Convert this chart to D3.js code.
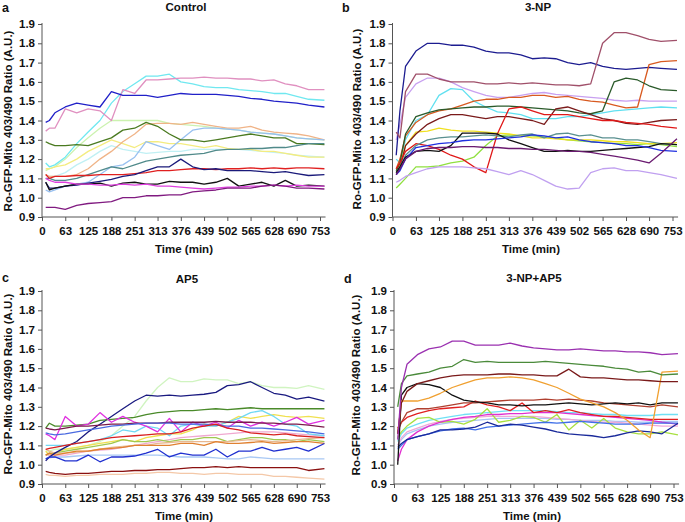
<!DOCTYPE html>
<html>
<head>
<meta charset="utf-8">
<script src="https://cdn.jsdelivr.net/npm/d3@7"></script>
<style>
body { margin: 0; background: #fff; }
svg text { font-family: "Liberation Sans", Arial, sans-serif; font-weight: bold; fill: #111; }
</style>
</head>
<body>
<div id="chart"></div>
<script>
// sample times (min), shared by every trace
var times = [10, 20, 35, 63, 94, 125, 157, 188, 219, 251, 282, 313, 345, 376, 408, 439, 471, 502, 533, 565, 596, 628, 659, 690, 722, 765];
var xTicks = [0, 63, 125, 188, 251, 313, 376, 439, 502, 565, 628, 690, 753];
var yTicks = [0.9, 1.0, 1.1, 1.2, 1.3, 1.4, 1.5, 1.6, 1.7, 1.8, 1.9];

// a - Control
var controlColors = ["#ccf2b0", "#c0f0f4", "#f4ec80", "#f0b488", "#98c0f0", "#70e8f0", "#e090c0", "#2020c8",
	"#4a7a20", "#508a8a", "#e02020", "#1a1a7a", "#111111", "#e040e0", "#801a80"];
var controlValues = [
	[1.14,1.15,1.16,1.20,1.26,1.31,1.36,1.40,1.40,1.40,1.40,1.40,1.385,1.38,1.375,1.37,1.36,1.355,1.35,1.34,1.335,1.33,1.32,1.31,1.305,1.30],
	[1.12,1.11,1.11,1.13,1.17,1.20,1.24,1.27,1.25,1.24,1.23,1.235,1.24,1.24,1.25,1.25,1.25,1.25,1.25,1.245,1.24,1.235,1.23,1.22,1.215,1.21],
	[1.15,1.15,1.16,1.17,1.20,1.24,1.27,1.30,1.28,1.26,1.29,1.29,1.28,1.28,1.27,1.26,1.27,1.255,1.25,1.25,1.24,1.24,1.23,1.22,1.21,1.21],
	[1.12,1.11,1.11,1.11,1.12,1.15,1.20,1.24,1.29,1.33,1.38,1.385,1.385,1.38,1.39,1.38,1.37,1.36,1.36,1.37,1.35,1.34,1.335,1.33,1.32,1.30],
	[1.04,1.03,1.04,1.06,1.07,1.08,1.12,1.16,1.17,1.21,1.29,1.27,1.25,1.30,1.35,1.36,1.36,1.355,1.35,1.34,1.335,1.33,1.32,1.31,1.305,1.30],
	[1.18,1.16,1.17,1.21,1.28,1.34,1.40,1.49,1.55,1.59,1.63,1.63,1.64,1.60,1.59,1.575,1.57,1.57,1.56,1.555,1.55,1.54,1.54,1.525,1.51,1.505],
	[1.345,1.36,1.36,1.46,1.44,1.46,1.45,1.40,1.56,1.54,1.61,1.61,1.615,1.62,1.62,1.625,1.62,1.62,1.615,1.615,1.605,1.61,1.59,1.58,1.56,1.56],
	[1.39,1.40,1.44,1.47,1.49,1.48,1.47,1.55,1.53,1.53,1.53,1.52,1.53,1.54,1.535,1.535,1.535,1.53,1.525,1.515,1.51,1.50,1.495,1.49,1.48,1.47],
	[1.29,1.28,1.27,1.27,1.275,1.27,1.29,1.31,1.35,1.36,1.39,1.37,1.33,1.30,1.30,1.29,1.30,1.31,1.32,1.33,1.32,1.31,1.31,1.28,1.28,1.275],
	[1.10,1.10,1.09,1.09,1.10,1.12,1.14,1.16,1.15,1.17,1.19,1.20,1.21,1.22,1.225,1.23,1.245,1.25,1.25,1.255,1.255,1.26,1.26,1.27,1.28,1.28],
	[1.12,1.10,1.11,1.11,1.115,1.115,1.12,1.12,1.12,1.125,1.13,1.14,1.14,1.145,1.15,1.15,1.145,1.15,1.15,1.155,1.15,1.155,1.15,1.155,1.155,1.15],
	[1.08,1.05,1.05,1.06,1.065,1.075,1.085,1.095,1.11,1.12,1.14,1.16,1.16,1.20,1.16,1.145,1.15,1.14,1.14,1.14,1.135,1.13,1.135,1.125,1.115,1.12],
	[1.08,1.04,1.05,1.06,1.07,1.07,1.075,1.06,1.075,1.08,1.07,1.07,1.085,1.08,1.08,1.07,1.08,1.10,1.06,1.07,1.08,1.06,1.09,1.06,1.065,1.06],
	[1.10,1.09,1.08,1.08,1.07,1.07,1.065,1.065,1.07,1.065,1.07,1.06,1.06,1.055,1.05,1.045,1.05,1.055,1.055,1.06,1.06,1.065,1.06,1.065,1.06,1.06],
	[0.95,0.95,0.95,0.94,0.96,0.97,0.975,0.98,1.00,1.00,1.01,1.01,1.015,1.015,1.03,1.035,1.04,1.05,1.05,1.05,1.06,1.065,1.06,1.05,1.05,1.045]
];

// b - 3-NP
var npColors = ["#c8a0f0", "#60e0f0", "#90e040", "#f0e020", "#1c1c90", "#a0506a", "#d85a20", "#2a5a2a",
	"#7a1a1a", "#e01818", "#5a9090", "#111111", "#2030e0", "#6a1a70", "#c0a0f0"];
var npValues = [
	[1.30,1.38,1.52,1.59,1.62,1.62,1.60,1.57,1.55,1.53,1.52,1.52,1.53,1.54,1.545,1.535,1.53,1.525,1.52,1.515,1.505,1.50,1.505,1.50,1.50,1.50],
	[1.20,1.18,1.30,1.40,1.43,1.53,1.565,1.56,1.50,1.47,1.445,1.44,1.43,1.41,1.41,1.41,1.42,1.42,1.43,1.44,1.45,1.455,1.46,1.465,1.47,1.465],
	[1.05,1.07,1.10,1.16,1.16,1.165,1.18,1.19,1.21,1.27,1.32,1.325,1.32,1.32,1.315,1.31,1.30,1.295,1.29,1.285,1.28,1.28,1.275,1.28,1.275,1.265],
	[1.13,1.17,1.27,1.34,1.345,1.36,1.35,1.345,1.345,1.34,1.335,1.33,1.32,1.31,1.31,1.305,1.30,1.30,1.30,1.295,1.29,1.29,1.285,1.28,1.28,1.285],
	[1.22,1.45,1.68,1.76,1.80,1.80,1.79,1.79,1.78,1.76,1.75,1.75,1.74,1.72,1.725,1.72,1.70,1.69,1.70,1.68,1.67,1.665,1.67,1.675,1.67,1.665],
	[1.34,1.31,1.55,1.64,1.64,1.615,1.60,1.60,1.60,1.59,1.59,1.595,1.59,1.595,1.59,1.585,1.585,1.58,1.59,1.80,1.855,1.855,1.84,1.82,1.81,1.815],
	[1.15,1.20,1.32,1.39,1.43,1.45,1.46,1.48,1.50,1.51,1.51,1.52,1.52,1.53,1.53,1.52,1.525,1.51,1.50,1.495,1.48,1.465,1.47,1.69,1.705,1.71],
	[1.14,1.18,1.33,1.42,1.44,1.455,1.46,1.465,1.47,1.47,1.475,1.475,1.47,1.465,1.46,1.455,1.45,1.44,1.435,1.45,1.60,1.62,1.61,1.58,1.56,1.555],
	[1.12,1.15,1.27,1.33,1.38,1.41,1.43,1.43,1.42,1.41,1.42,1.42,1.41,1.40,1.38,1.46,1.47,1.45,1.43,1.41,1.40,1.385,1.38,1.39,1.40,1.405],
	[1.15,1.18,1.24,1.28,1.27,1.25,1.22,1.20,1.16,1.13,1.33,1.46,1.47,1.45,1.43,1.43,1.43,1.42,1.41,1.40,1.40,1.39,1.385,1.38,1.37,1.36],
	[1.13,1.16,1.22,1.27,1.30,1.31,1.315,1.315,1.32,1.325,1.32,1.315,1.325,1.33,1.31,1.33,1.335,1.32,1.325,1.31,1.31,1.30,1.30,1.29,1.28,1.275],
	[1.13,1.16,1.21,1.24,1.245,1.24,1.27,1.335,1.335,1.335,1.33,1.30,1.28,1.26,1.24,1.24,1.245,1.24,1.24,1.245,1.25,1.255,1.26,1.265,1.28,1.275],
	[1.12,1.14,1.20,1.26,1.27,1.28,1.285,1.295,1.30,1.30,1.305,1.31,1.315,1.325,1.32,1.31,1.315,1.30,1.29,1.285,1.28,1.27,1.27,1.26,1.245,1.24],
	[1.12,1.15,1.20,1.24,1.255,1.26,1.26,1.265,1.265,1.26,1.26,1.255,1.255,1.25,1.25,1.245,1.24,1.24,1.235,1.225,1.215,1.205,1.195,1.18,1.23,1.305],
	[1.08,1.09,1.11,1.13,1.15,1.16,1.16,1.16,1.155,1.15,1.135,1.12,1.14,1.12,1.09,1.06,1.045,1.05,1.13,1.15,1.155,1.14,1.14,1.13,1.12,1.10]
];

// c - AP5
var ap5Colors = ["#d0f4c0", "#f0e050", "#f0a8d0", "#a0c850", "#e8b890", "#a8c8f4", "#f4c8a8", "#70d8f4",
	"#e08030", "#1a1a80", "#4a8a2a", "#e030e0", "#7a1a4a", "#4a6ae0", "#d82020", "#2030d0", "#8a1010"];
var ap5Values = [
	[1.07,1.07,1.08,1.08,1.09,1.10,1.12,1.15,1.20,1.25,1.33,1.40,1.45,1.43,1.43,1.445,1.44,1.44,1.42,1.43,1.41,1.40,1.40,1.395,1.41,1.39],
	[1.07,1.05,1.06,1.08,1.09,1.10,1.11,1.12,1.13,1.12,1.14,1.15,1.16,1.16,1.18,1.21,1.20,1.22,1.25,1.24,1.25,1.26,1.25,1.245,1.25,1.24],
	[1.05,1.05,1.05,1.05,1.06,1.07,1.075,1.08,1.09,1.10,1.11,1.12,1.13,1.14,1.145,1.15,1.155,1.16,1.165,1.17,1.17,1.17,1.165,1.16,1.155,1.15],
	[1.05,1.06,1.06,1.07,1.08,1.09,1.10,1.11,1.13,1.12,1.12,1.13,1.12,1.13,1.13,1.14,1.14,1.12,1.13,1.14,1.14,1.13,1.13,1.12,1.13,1.12],
	[1.08,1.07,1.06,1.06,1.065,1.07,1.08,1.09,1.095,1.10,1.10,1.11,1.115,1.12,1.12,1.12,1.12,1.12,1.125,1.13,1.125,1.12,1.125,1.13,1.135,1.14],
	[1.03,1.035,1.04,1.04,1.045,1.05,1.05,1.05,1.05,1.05,1.05,1.05,1.045,1.04,1.04,1.04,1.035,1.03,1.03,1.04,1.035,1.03,1.03,1.03,1.03,1.03],
	[0.95,0.945,0.945,0.94,0.945,0.945,0.95,0.95,0.95,0.955,0.955,0.96,0.96,0.955,0.955,0.95,0.955,0.955,0.95,0.95,0.95,0.94,0.94,0.935,0.93,0.925],
	[1.10,1.10,1.10,1.10,1.11,1.12,1.13,1.15,1.18,1.17,1.20,1.19,1.15,1.20,1.21,1.20,1.20,1.22,1.24,1.27,1.28,1.25,1.21,1.20,1.16,1.15],
	[1.05,1.06,1.05,1.06,1.07,1.07,1.08,1.085,1.09,1.10,1.10,1.10,1.10,1.11,1.11,1.10,1.12,1.11,1.11,1.115,1.12,1.11,1.115,1.12,1.12,1.11],
	[1.02,1.04,1.06,1.09,1.12,1.17,1.21,1.25,1.29,1.33,1.36,1.355,1.36,1.355,1.36,1.365,1.375,1.41,1.415,1.43,1.40,1.37,1.36,1.34,1.35,1.33],
	[1.19,1.215,1.20,1.20,1.205,1.21,1.23,1.235,1.24,1.245,1.26,1.27,1.275,1.28,1.28,1.285,1.29,1.285,1.29,1.295,1.29,1.29,1.29,1.29,1.29,1.29],
	[1.16,1.15,1.13,1.25,1.20,1.21,1.27,1.22,1.25,1.22,1.20,1.17,1.24,1.17,1.22,1.20,1.22,1.19,1.23,1.20,1.22,1.20,1.22,1.245,1.21,1.23],
	[1.19,1.185,1.18,1.19,1.20,1.20,1.205,1.21,1.21,1.215,1.215,1.215,1.22,1.22,1.22,1.22,1.225,1.22,1.22,1.22,1.215,1.215,1.21,1.21,1.205,1.195],
	[1.165,1.16,1.155,1.16,1.17,1.18,1.19,1.20,1.205,1.21,1.215,1.215,1.215,1.21,1.21,1.21,1.205,1.20,1.20,1.19,1.19,1.185,1.18,1.175,1.17,1.16],
	[1.08,1.085,1.09,1.10,1.11,1.12,1.13,1.14,1.145,1.15,1.155,1.16,1.16,1.17,1.19,1.20,1.21,1.19,1.18,1.165,1.16,1.155,1.16,1.15,1.145,1.14],
	[1.03,1.04,1.04,1.02,1.02,1.05,1.015,1.04,1.04,1.045,1.06,1.08,1.04,1.06,1.05,1.05,1.08,1.04,1.07,1.07,1.09,1.07,1.08,1.09,1.07,1.11],
	[0.965,0.96,0.955,0.95,0.955,0.955,0.96,0.965,0.965,0.97,0.97,0.975,0.975,0.98,0.985,0.985,0.99,0.985,0.99,0.985,0.985,0.985,0.985,0.985,0.97,0.98]
];

// d - 3-NP+AP5
var npAp5Colors = ["#a8c4f4", "#f0a8d8", "#70e0f4", "#a8e040", "#e030d0", "#4070e8", "#1a2a9a", "#e02020",
	"#b04030", "#111111", "#f0a030", "#7a1a1a", "#4a8a3a", "#9a30b0"];
var npAp5Values = [
	[1.10,1.13,1.16,1.18,1.20,1.21,1.22,1.225,1.23,1.235,1.24,1.24,1.24,1.24,1.24,1.235,1.235,1.23,1.23,1.23,1.225,1.225,1.22,1.22,1.225,1.225],
	[1.10,1.14,1.17,1.19,1.21,1.225,1.235,1.24,1.245,1.25,1.25,1.25,1.25,1.25,1.245,1.24,1.235,1.23,1.225,1.22,1.22,1.215,1.21,1.205,1.20,1.20],
	[1.12,1.16,1.19,1.21,1.23,1.24,1.25,1.26,1.265,1.27,1.275,1.28,1.28,1.28,1.28,1.275,1.27,1.27,1.265,1.26,1.26,1.255,1.255,1.255,1.26,1.26],
	[1.14,1.17,1.20,1.24,1.245,1.22,1.225,1.21,1.235,1.29,1.22,1.23,1.25,1.245,1.22,1.26,1.18,1.23,1.19,1.24,1.19,1.17,1.16,1.16,1.17,1.155],
	[1.02,1.08,1.13,1.17,1.20,1.22,1.235,1.245,1.25,1.26,1.26,1.265,1.265,1.27,1.27,1.27,1.265,1.26,1.255,1.25,1.245,1.24,1.235,1.23,1.22,1.21],
	[1.08,1.10,1.13,1.145,1.16,1.175,1.185,1.19,1.18,1.195,1.20,1.205,1.21,1.215,1.22,1.215,1.22,1.225,1.22,1.215,1.21,1.21,1.21,1.215,1.215,1.215],
	[1.09,1.11,1.13,1.145,1.16,1.18,1.18,1.185,1.195,1.22,1.20,1.21,1.205,1.195,1.185,1.17,1.16,1.155,1.15,1.14,1.15,1.165,1.175,1.17,1.16,1.215],
	[1.19,1.22,1.245,1.265,1.28,1.29,1.295,1.30,1.33,1.31,1.30,1.28,1.32,1.27,1.28,1.27,1.285,1.27,1.26,1.25,1.25,1.245,1.24,1.235,1.235,1.235],
	[1.17,1.22,1.27,1.29,1.29,1.30,1.31,1.32,1.32,1.325,1.33,1.335,1.335,1.335,1.34,1.335,1.34,1.335,1.33,1.32,1.315,1.31,1.305,1.30,1.31,1.30],
	[1.00,1.36,1.40,1.42,1.415,1.40,1.36,1.335,1.325,1.32,1.31,1.31,1.305,1.31,1.31,1.315,1.32,1.315,1.31,1.315,1.32,1.315,1.32,1.31,1.32,1.32],
	[1.16,1.33,1.33,1.33,1.345,1.37,1.40,1.42,1.44,1.45,1.45,1.455,1.45,1.44,1.42,1.40,1.37,1.34,1.32,1.30,1.27,1.23,1.18,1.14,1.48,1.485],
	[1.16,1.32,1.38,1.42,1.435,1.45,1.46,1.465,1.465,1.465,1.47,1.47,1.465,1.465,1.46,1.46,1.495,1.455,1.45,1.45,1.445,1.44,1.44,1.435,1.43,1.43],
	[1.30,1.42,1.46,1.47,1.48,1.50,1.51,1.545,1.53,1.535,1.53,1.53,1.53,1.53,1.535,1.53,1.525,1.52,1.515,1.51,1.50,1.495,1.48,1.485,1.465,1.47],
	[1.13,1.40,1.52,1.57,1.60,1.61,1.64,1.64,1.62,1.62,1.62,1.63,1.615,1.605,1.60,1.595,1.595,1.60,1.595,1.59,1.59,1.585,1.585,1.58,1.57,1.575]
];

var width = 685, height = 522;

// where each panel sits on the page
var panels = [
	{letter:"a", title:"Control", colors:controlColors, values:controlValues,
		x0:42, x753:320, top:24, bottom:217, titleX:186, titleY:11, letterX:2, letterY:12, yTitleX:12, yTitleY:121, xTitleX:184},
	{letter:"b", title:"3-NP", colors:npColors, values:npValues,
		x0:392.5, x753:672.5, top:24, bottom:217, titleX:538, titleY:11, letterX:342, letterY:12, yTitleX:361, yTitleY:119, xTitleX:531},
	{letter:"c", title:"AP5", colors:ap5Colors, values:ap5Values,
		x0:42, x753:320, top:291, bottom:484, titleX:187, titleY:283, letterX:2, letterY:282, yTitleX:12, yTitleY:384, xTitleX:184},
	{letter:"d", title:"3-NP+AP5", colors:npAp5Colors, values:npAp5Values,
		x0:394, x753:673.5, top:291, bottom:484, titleX:534, titleY:282, letterX:344, letterY:283, yTitleX:360, yTitleY:385, xTitleX:532}
];

var svg = d3.select("#chart").append("svg")
	.attr("width", width)
	.attr("height", height);

panels.forEach(function(p){
	var x = d3.scaleLinear().domain([0, 753]).range([p.x0, p.x753]);
	var y = d3.scaleLinear().domain([0.9, 1.9]).range([p.bottom, p.top]);
	var g = svg.append("g");

	var line = d3.line()
		.x(function(d, i){ return x(times[i]); })
		.y(function(d){ return y(d); });

	g.selectAll(".trace").data(p.values).enter().append("path")
		.attr("class", "trace")
		.attr("fill", "none")
		.attr("stroke", function(d, i){ return p.colors[i]; })
		.attr("stroke-width", 1.3)
		.attr("stroke-linejoin", "round")
		.attr("d", line);

	// y axis
	var yAxis = d3.axisLeft(y).tickValues(yTicks).tickSize(4).tickPadding(3)
		.tickFormat(d3.format(".1f"));
	var ya = g.append("g").attr("transform", "translate(" + p.x0 + ",0)").call(yAxis);

	// x axis, line runs a little past the last label
	var xAxis = d3.axisBottom(x).tickValues(xTicks).tickSize(4).tickPadding(6)
		.tickSizeOuter(0).tickFormat(d3.format("d"));
	var xa = g.append("g").attr("transform", "translate(0," + p.bottom + ")").call(xAxis);
	xa.select(".domain").attr("d", "M" + p.x0 + ",0H" + x(768));
	ya.select(".domain").attr("d", "M0," + (p.top - 1) + "V" + p.bottom);

	[ya, xa].forEach(function(a){
		a.select(".domain").attr("stroke", "#555");
		a.selectAll(".tick line").attr("stroke", "#555");
		a.selectAll("text").attr("font-size", "11.5px").attr("font-family", null).attr("fill", "#111");
	});

	g.append("text").attr("x", p.titleX).attr("y", p.titleY)
		.attr("text-anchor", "middle").attr("font-size", "11.5px").text(p.title);
	g.append("text").attr("x", p.letterX).attr("y", p.letterY)
		.attr("font-size", "12.5px").text(p.letter);
	g.append("text").attr("transform", "translate(" + p.yTitleX + "," + p.yTitleY + ") rotate(-90)")
		.attr("text-anchor", "middle").attr("font-size", "11.5px").text("Ro-GFP-Mito 403/490 Ratio (A.U.)");
	g.append("text").attr("x", p.xTitleX).attr("y", p.bottom + 36)
		.attr("text-anchor", "middle").attr("font-size", "11.5px").text("Time (min)");
});
</script>
</body>
</html>
